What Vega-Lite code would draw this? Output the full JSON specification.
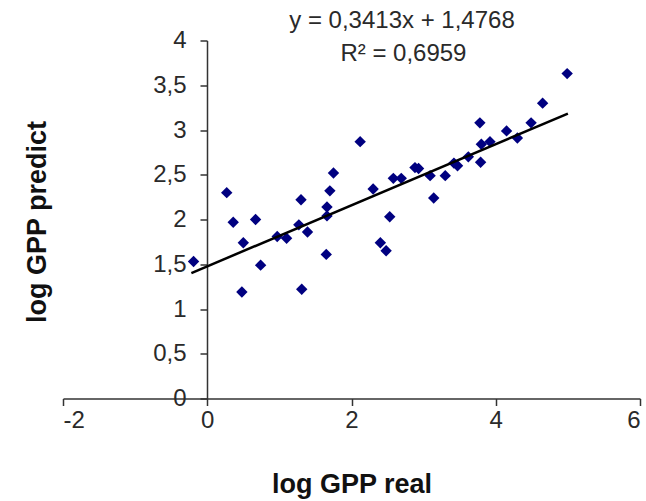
{
  "$schema": "https://vega.github.io/schema/vega-lite/v6.json",
  "width": 577,
  "height": 358,
  "autosize": "none",
  "padding": {"left": 63, "top": 40.5, "right": 6, "bottom": 102.5},
  "background": "white",
  "config": {
    "view": {"stroke": null},
    "font": "Liberation Sans",
    "axis": {"grid": false, "domainColor": "#333333", "tickColor": "#333333", "labelColor": "#2a2a2a", "titleColor": "#111111", "labelFont": "Liberation Sans", "titleFont": "Liberation Sans", "domainWidth": 1.5, "tickWidth": 1.5}
  },
  "datasets": {
    "points": [
      {"real": -0.19, "predict": 1.53},
      {"real": 0.27, "predict": 2.30},
      {"real": 0.36, "predict": 1.97},
      {"real": 0.50, "predict": 1.74},
      {"real": 0.48, "predict": 1.19},
      {"real": 0.67, "predict": 2.00},
      {"real": 0.74, "predict": 1.49},
      {"real": 0.97, "predict": 1.81},
      {"real": 1.10, "predict": 1.79},
      {"real": 1.30, "predict": 2.22},
      {"real": 1.27, "predict": 1.94},
      {"real": 1.39, "predict": 1.86},
      {"real": 1.31, "predict": 1.22},
      {"real": 1.65, "predict": 1.61},
      {"real": 1.66, "predict": 2.04},
      {"real": 1.66, "predict": 2.14},
      {"real": 1.70, "predict": 2.32},
      {"real": 1.75, "predict": 2.52},
      {"real": 2.12, "predict": 2.87},
      {"real": 2.30, "predict": 2.34},
      {"real": 2.40, "predict": 1.74},
      {"real": 2.48, "predict": 1.65},
      {"real": 2.53, "predict": 2.03},
      {"real": 2.58, "predict": 2.46},
      {"real": 2.69, "predict": 2.46},
      {"real": 2.88, "predict": 2.58},
      {"real": 2.93, "predict": 2.57},
      {"real": 3.09, "predict": 2.49},
      {"real": 3.14, "predict": 2.24},
      {"real": 3.30, "predict": 2.49},
      {"real": 3.42, "predict": 2.63},
      {"real": 3.47, "predict": 2.60},
      {"real": 3.62, "predict": 2.70},
      {"real": 3.79, "predict": 2.64},
      {"real": 3.80, "predict": 2.84},
      {"real": 3.92, "predict": 2.87},
      {"real": 3.78, "predict": 3.08},
      {"real": 4.15, "predict": 2.99},
      {"real": 4.30, "predict": 2.91},
      {"real": 4.49, "predict": 3.08},
      {"real": 4.65, "predict": 3.30},
      {"real": 4.99, "predict": 3.63}
    ],
    "trend": [
      {"real": -0.22, "predict": 1.4017},
      {"real": 5.0, "predict": 3.1833}
    ],
    "labels": [
      {"real": 2.7, "predict": 4.22, "text": "y = 0,3413x + 1,4768"},
      {"real": 2.72, "predict": 3.85, "text": "R² = 0,6959"}
    ]
  },
  "layer": [
    {
      "data": {"name": "points"},
      "mark": {"type": "point", "shape": "diamond", "filled": true, "size": 130, "color": "#000080", "opacity": 1},
      "encoding": {
        "x": {"field": "real", "type": "quantitative", "scale": {"domain": [-2, 6], "nice": false, "zero": false},
          "axis": {"title": "log GPP real", "values": [-2, 0, 2, 4, 6], "labelExpr": "toString(datum.value)", "tickSize": 7, "labelFontSize": 24, "labelPadding": 3, "titleFontSize": 27, "titleFontWeight": "bold", "titleBaseline": "alphabetic", "titleY": 94}},
        "y": {"field": "predict", "type": "quantitative", "scale": {"domain": [0, 4], "nice": false, "zero": false},
          "axis": {"title": "log GPP predict", "values": [0, 0.5, 1, 1.5, 2, 2.5, 3, 3.5, 4], "labelExpr": "replace(toString(datum.value), '.', ',')", "offset": -144, "tickSize": 7, "labelFontSize": 24, "labelPadding": 14, "titleFontSize": 27, "titleFontWeight": "bold", "titleBaseline": "alphabetic", "titleX": -162, "titleY": 181, "titleAngle": -90}}
      }
    },
    {
      "data": {"name": "trend"},
      "mark": {"type": "line", "color": "#000000", "strokeWidth": 2.5},
      "encoding": {
        "x": {"field": "real", "type": "quantitative"},
        "y": {"field": "predict", "type": "quantitative"}
      }
    },
    {
      "data": {"name": "labels"},
      "mark": {"type": "text", "fontSize": 24, "color": "#2a2a2a", "clip": false, "baseline": "middle", "align": "center"},
      "encoding": {
        "x": {"field": "real", "type": "quantitative"},
        "y": {"field": "predict", "type": "quantitative"},
        "text": {"field": "text"}
      }
    }
  ]
}
